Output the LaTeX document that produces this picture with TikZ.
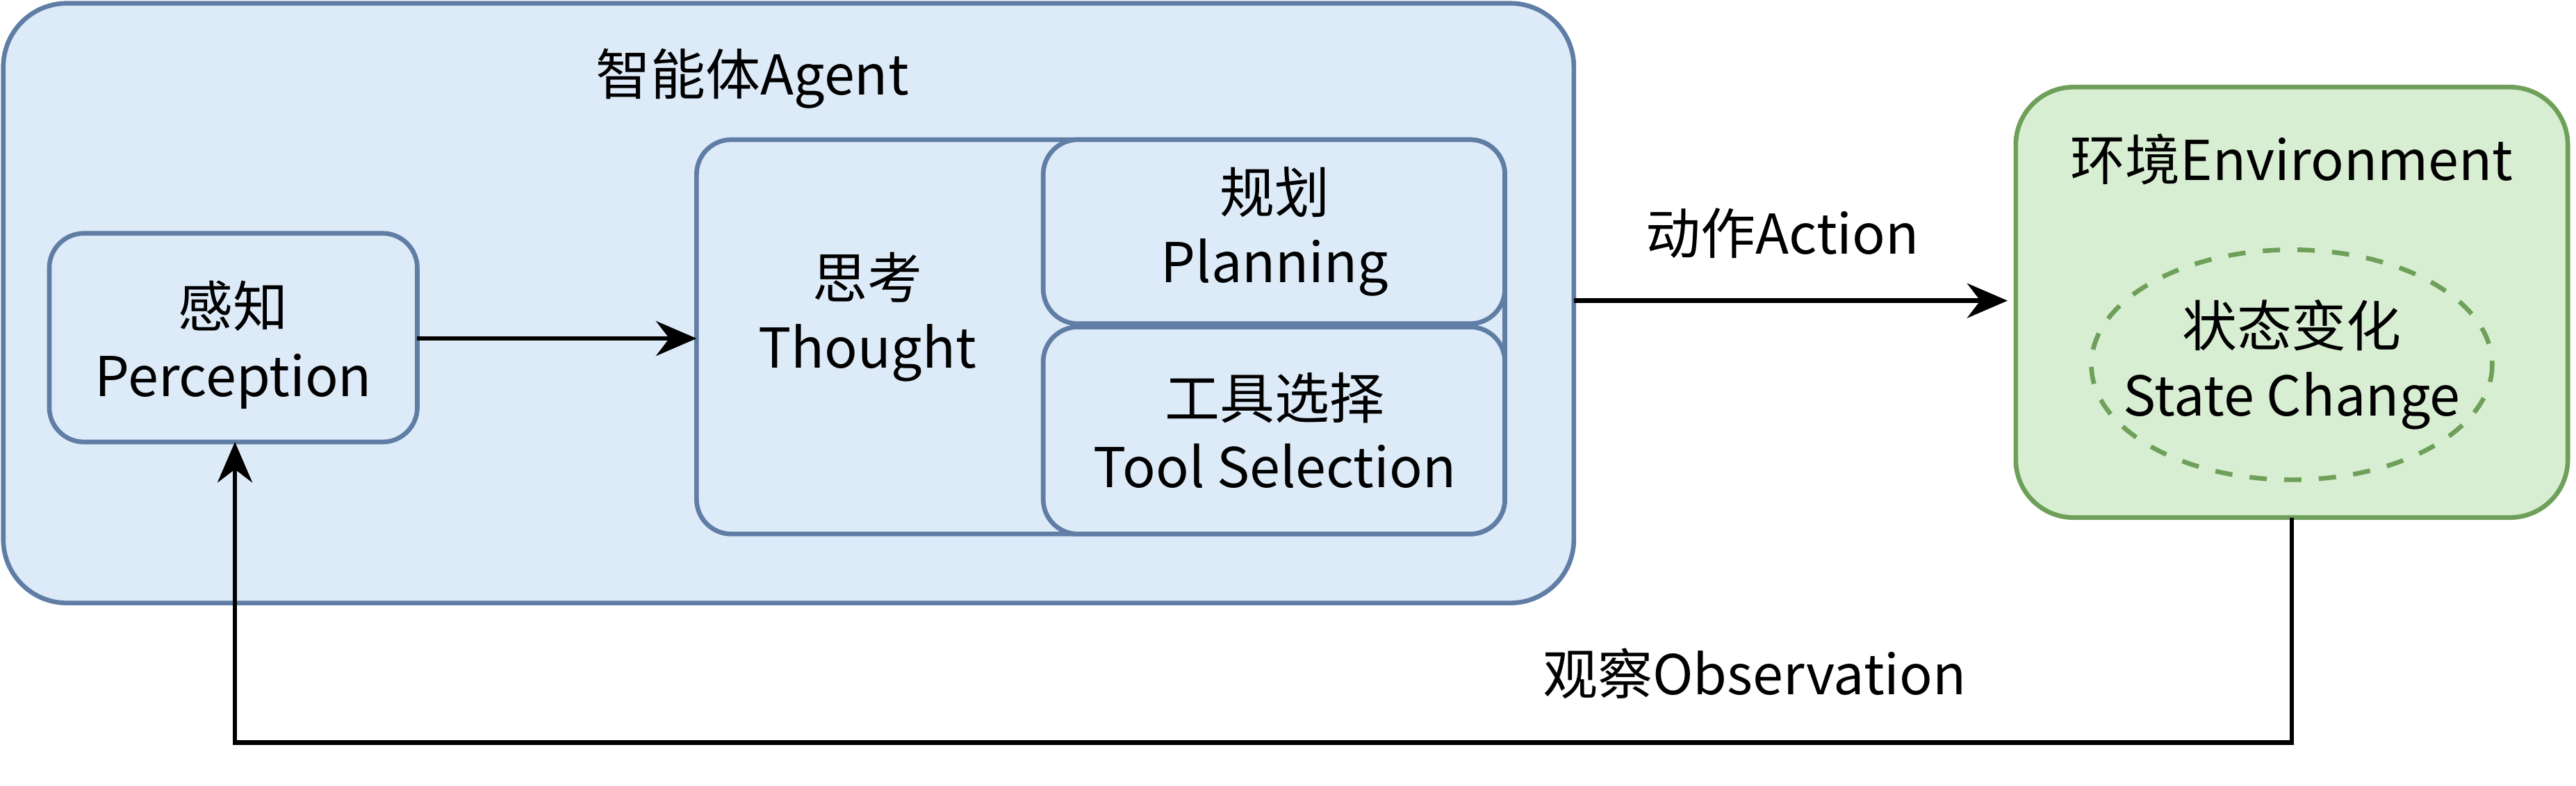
\documentclass[tikz,border=0pt]{standalone}
\usepackage{fontspec}
\setmainfont{Noto Sans CJK SC}
\usetikzlibrary{arrows.meta,positioning}
\definecolor{agentfill}{RGB}{221,234,248}
\definecolor{agentline}{RGB}{95,125,165}
\definecolor{envfill}{RGB}{216,238,210}
\definecolor{envline}{RGB}{110,160,90}
\tikzset{
  box/.style={draw=agentline, fill=agentfill, rounded corners=#1, line width=0.8pt},
  box/.default=6pt,
  lbl/.style={font=\fontsize{9.5}{12}\selectfont, align=center, inner sep=0pt},
  flow/.style={-{Stealth[length=7pt,width=6pt]}, line width=0.8pt}
}
\begin{document}
\begin{tikzpicture}[x=0.01cm,y=-0.01cm]
\useasboundingbox (0,0) rectangle (1568,478);
% agent
\draw[box=11pt] (2,2) rectangle (958,367);
\node[lbl] (agent) at (458,48) {智能体Agent};
\draw[box] (30,142) rectangle (254,269);
\node[lbl] (percep) at (142,210) {感知\\Perception};
\coordinate (pR) at (254,206);
\coordinate (pB) at (143,269);
\draw[box] (424,85) rectangle (916,325);
\node[lbl] (thought) at (528,193) {思考\\Thought};
\coordinate (tL) at (424,206);
\coordinate (tR) at (958,183);
\draw[box] (635,85) rectangle (916,197);
\node[lbl] (plan) at (776,141) {规划\\Planning};
\draw[box] (635,199) rectangle (916,325);
\node[lbl] (tool) at (776,262) {工具选择\\Tool Selection};
% environment
\draw[draw=envline, fill=envfill, rounded corners=10pt, line width=0.8pt] (1227,53) rectangle (1563,315);
\node[lbl] (env) at (1395,97) {环境Environment};
\draw[envline, dashed, line width=0.8pt] (1395,222) ellipse [x radius=122, y radius=70];
\node[lbl] (state) at (1395,222) {状态变化\\State Change};
\coordinate (eL) at (1222,183);
\coordinate (eB) at (1395,315);
% connectors
\draw[flow] (pR) -- (tL);
\draw[flow] (tR) -- (eL);
\node[lbl] (action) at (1085,142) {动作Action};
\draw[flow] (eB) |- (143,452) -- (pB);
\node[lbl] (obs) at (1068,410) {观察Observation};
\end{tikzpicture}
\end{document}
